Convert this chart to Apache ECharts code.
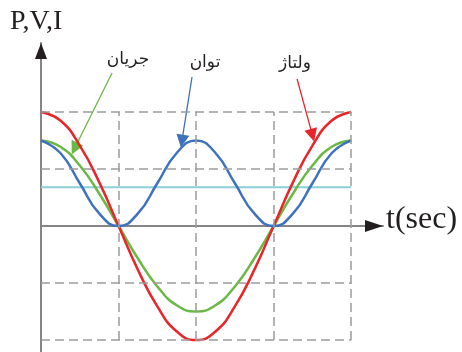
<!DOCTYPE html>
<html>
<head>
<meta charset="utf-8">
<script src="https://cdn.jsdelivr.net/npm/echarts@6/dist/echarts.min.js"></script>
<style>
  html, body { margin: 0; padding: 0; background: #fff; }
  #chart { width: 462px; height: 352px; }
</style>
</head>
<body>
<div id="chart"></div>
<script>
// time in quarter periods (one grid column = 1)
const tSteps = [0, 0.25, 0.5, 0.75, 1, 1.25, 1.5, 1.75, 2, 2.25, 2.5, 2.75, 3, 3.25, 3.5, 3.75, 4];
const voltage = [2, 1.85, 1.41, 0.77, 0, -0.77, -1.41, -1.85, -2, -1.85, -1.41, -0.77, 0, 0.77, 1.41, 1.85, 2];
const current = [1.5, 1.39, 1.06, 0.57, 0, -0.57, -1.06, -1.39, -1.5, -1.39, -1.06, -0.57, 0, 0.57, 1.06, 1.39, 1.5];
const power = [1.5, 1.28, 0.75, 0.22, 0, 0.22, 0.75, 1.28, 1.5, 1.28, 0.75, 0.22, 0, 0.22, 0.75, 1.28, 1.5];
const avgPower = [[0, 0.68], [4, 0.68]];

// dashed grid
const gridX = [1, 2, 3, 4];
const gridY = [-2, -1, 1, 2];

// axis range
const xMax = 4.41;
const yMin = -2.21;
const yMax = 3.21;

// annotation pointers: [from, to]
const pointers = [
    { name: 'current', coords: [[0.916, 2.684], [0.433, 1.358]], color: '#6ab845' },
    { name: 'power', coords: [[1.947, 2.614], [1.817, 1.49]], color: '#3e72bd' },
    { name: 'voltage', coords: [[3.302, 2.579], [3.50, 1.593]], color: '#e8262a' },
];

const RED = '#e8262a';
const GREEN = '#6ab845';
const BLUE = '#3e72bd';
const CYAN = '#88d0d9';
const INK = '#231f20';

const chart = echarts.init(document.getElementById('chart'), null, { renderer: 'canvas' });

const zip = (xs, ys) => xs.map((x, i) => [x, ys[i]]);

// dashed box lines
const gridLines = [];
gridY.forEach(v => gridLines.push([{ coord: [0, v] }, { coord: [4, v] }]));
gridX.forEach(v => gridLines.push([{ coord: [v, -2] }, { coord: [v, 2] }]));

const curve = (name, data, color) => ({
    name: name,
    type: 'line',
    data: data,
    smooth: true,
    symbol: 'none',
    silent: true,
    lineStyle: { color: color, width: 2.5 },
});

const arabicFont = '17px "DejaVu Sans"';

const option = {
    animation: false,
    grid: { left: 41, right: 79, top: 43, bottom: 0 },
    xAxis: {
        type: 'value',
        min: 0,
        max: xMax,
        axisLine: { show: true, onZero: true, lineStyle: { color: '#858585', width: 2 } },
        axisTick: { show: false },
        axisLabel: { show: false },
        splitLine: { show: false },
    },
    yAxis: {
        type: 'value',
        min: yMin,
        max: yMax,
        axisLine: { show: true, onZero: false, lineStyle: { color: '#858585', width: 2 } },
        axisTick: { show: false },
        axisLabel: { show: false },
        splitLine: { show: false },
    },
    series: [
        {
            name: 'grid',
            type: 'line',
            data: [],
            silent: true,
            markLine: {
                silent: true,
                symbol: 'none',
                label: { show: false },
                lineStyle: { color: '#9c9c9c', width: 1.5, type: [9, 5] },
                data: gridLines,
            },
        },
        {
            name: 'avg',
            type: 'line',
            data: avgPower,
            symbol: 'none',
            silent: true,
            lineStyle: { color: CYAN, width: 2 },
        },
        curve('current', zip(tSteps, current), GREEN),
        curve('voltage', zip(tSteps, voltage), RED),
        curve('power', zip(tSteps, power), BLUE),
        {
            name: 'pointers',
            type: 'lines',
            coordinateSystem: 'cartesian2d',
            silent: true,
            symbol: ['none', 'triangle'],
            symbolSize: [7, 13],
            data: pointers.map(p => ({ coords: p.coords, lineStyle: { color: p.color, width: 1.3, opacity: 1 } })),
        },
        {
            name: 'arrows',
            type: 'scatter',
            silent: true,
            clip: false,
            itemStyle: { color: INK, opacity: 1 },
            data: [
                { value: [0, yMax], symbol: 'triangle', symbolSize: [12, 16], symbolOffset: [0, 8] },
                { value: [xMax, 0], symbol: 'triangle', symbolSize: [12, 18], symbolRotate: -90, symbolOffset: [-9, 0] },
            ],
        },
    ],
    graphic: [
        { type: 'text', left: 10, top: 8, style: { text: 'P,V,I', font: '28px "Liberation Serif"', fill: INK } },
        { type: 'text', left: 386, top: 204, style: { text: 't(sec)', font: '32px "Liberation Serif"', fill: INK } },
        { type: 'text', x: 128, y: 60, style: { text: 'جریان', font: arabicFont, fill: INK, align: 'center', verticalAlign: 'middle' } },
        { type: 'text', x: 205, y: 63, style: { text: 'توان', font: arabicFont, fill: INK, align: 'center', verticalAlign: 'middle' } },
        { type: 'text', x: 295, y: 64, style: { text: 'ولتاژ', font: arabicFont, fill: INK, align: 'center', verticalAlign: 'middle' } },
    ],
};

chart.setOption(option);
</script>
</body>
</html>
